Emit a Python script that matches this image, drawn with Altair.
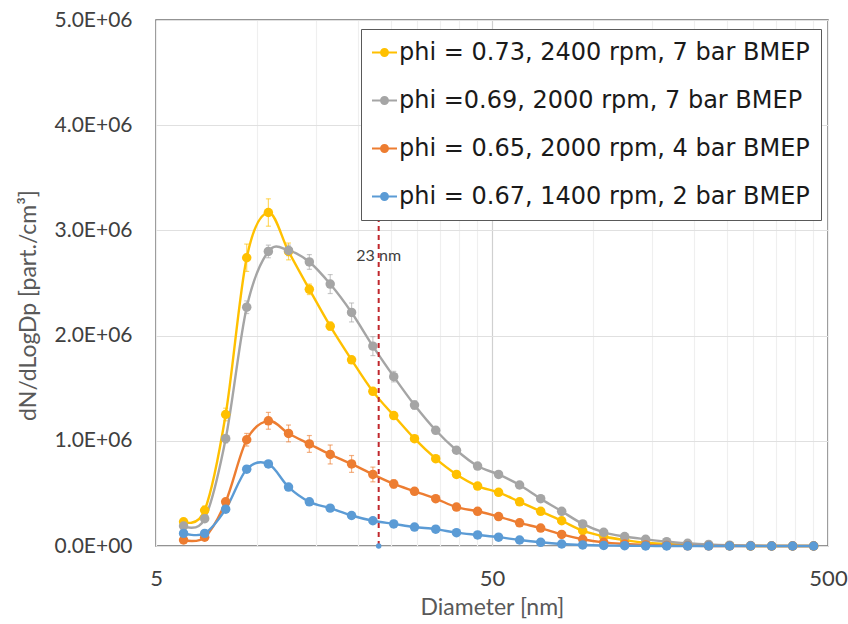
import altair as alt
import pandas as pd

# Particle diameter channels [nm]
diameter_nm = [6.04, 6.98, 8.06, 9.31, 10.8, 12.4, 14.3, 16.5, 19.1, 22.1, 25.5,
               29.4, 34.0, 39.2, 45.3, 52.3, 60.4, 69.8, 80.6, 93.1, 107.5, 124.1,
               143.3, 165.5, 191.1, 220.7, 254.8, 294.3, 339.8, 392.4, 453.2]

series_names = ["phi = 0.73, 2400 rpm, 7 bar BMEP",
                "phi =0.69, 2000 rpm, 7 bar BMEP",
                "phi = 0.65, 2000 rpm, 4 bar BMEP",
                "phi = 0.67, 1400 rpm, 2 bar BMEP"]
series_colors = ["#FFC000", "#A5A5A5", "#ED7D31", "#5B9BD5"]

# dN/dLogDp values in units of 1E+06 part./cm3
y_073 = [0.23, 0.34, 1.25, 2.74, 3.17, 2.80, 2.44, 2.09, 1.77, 1.47, 1.24,
         1.02, 0.83, 0.68, 0.57, 0.51, 0.42, 0.33, 0.24, 0.145, 0.09, 0.057,
         0.031, 0.02, 0.012, 0.006, 0.003, 0.0, 0.0, 0.0, 0.0]
y_069 = [0.19, 0.26, 1.02, 2.27, 2.80, 2.81, 2.70, 2.49, 2.22, 1.90, 1.61,
         1.34, 1.10, 0.91, 0.76, 0.68, 0.58, 0.45, 0.33, 0.21, 0.13, 0.09,
         0.064, 0.041, 0.026, 0.015, 0.008, 0.004, 0.0, 0.0, 0.0]
y_065 = [0.057, 0.083, 0.42, 1.01, 1.19, 1.07, 0.97, 0.87, 0.78, 0.68, 0.59,
         0.52, 0.45, 0.37, 0.33, 0.28, 0.22, 0.17, 0.11, 0.064, 0.035, 0.02,
         0.01, 0.005, 0.002, 0.0, 0.0, 0.0, 0.0, 0.0, 0.0]
y_067 = [0.12, 0.12, 0.35, 0.73, 0.78, 0.56, 0.42, 0.36, 0.29, 0.24, 0.21,
         0.18, 0.16, 0.127, 0.105, 0.084, 0.057, 0.035, 0.019, 0.01, 0.005, 0.003,
         0.001, 0.0, 0.0, 0.0, 0.0, 0.0, 0.0, 0.0, 0.0]

# error bar half-widths (1E+06 part./cm3)
e_073 = [0.02, 0.04, 0.06, 0.13, 0.13, 0.08, 0.05, 0.04, 0.03, 0.03, 0.02,
         0.02, 0.02, 0.0, 0.0, 0.0, 0.0, 0.0, 0.0, 0.0, 0.0, 0.0,
         0.0, 0.0, 0.0, 0.0, 0.0, 0.0, 0.0, 0.0, 0.0]
e_069 = [0.02, 0.03, 0.04, 0.06, 0.06, 0.05, 0.07, 0.09, 0.09, 0.09, 0.05,
         0.04, 0.03, 0.02, 0.0, 0.0, 0.0, 0.0, 0.0, 0.0, 0.0, 0.0,
         0.0, 0.0, 0.0, 0.0, 0.0, 0.0, 0.0, 0.0, 0.0]
e_065 = [0.01, 0.02, 0.03, 0.06, 0.08, 0.08, 0.08, 0.09, 0.08, 0.07, 0.04,
         0.03, 0.02, 0.02, 0.0, 0.0, 0.0, 0.0, 0.0, 0.0, 0.0, 0.0,
         0.0, 0.0, 0.0, 0.0, 0.0, 0.0, 0.0, 0.0, 0.0]
e_067 = [0.01, 0.01, 0.02, 0.03, 0.03, 0.02, 0.02, 0.02, 0.0, 0.0, 0.0,
         0.0, 0.0, 0.0, 0.0, 0.0, 0.0, 0.0, 0.0, 0.0, 0.0, 0.0,
         0.0, 0.0, 0.0, 0.0, 0.0, 0.0, 0.0, 0.0, 0.0]

cut_size_nm = [23]
cut_label = ["23 nm"]
cut_label_y = [2.76]
cut_line_top = [3.1]

y_ticks = [0, 1e6, 2e6, 3e6, 4e6, 5e6]
x_grid = [5, 10, 15, 20, 25, 30, 35, 40, 45, 50, 100, 150, 200, 250, 300,
          350, 400, 450, 500]

rows = []
for i, (name, col, vals, errs) in enumerate(zip(series_names, series_colors,
                                                [y_073, y_069, y_065, y_067],
                                                [e_073, e_069, e_065, e_067])):
    for d, v, e in zip(diameter_nm, vals, errs):
        rows.append({"d": d, "v": v * 1e6, "lo": (v - e) * 1e6, "hi": (v + e) * 1e6,
                     "e": e, "series": name, "col": col, "k": i})
df = pd.DataFrame(rows)
df_err = df[df["e"] > 0]

cut_df = pd.DataFrame({"d": cut_size_nm, "y0": [0.0],
                       "y1": [v * 1e6 for v in cut_line_top],
                       "ly": [v * 1e6 for v in cut_label_y], "t": cut_label})

FONT = "Lato"
LEGEND_FONT = "DejaVu Sans"
x_scale = alt.Scale(type="log", domain=[5, 500], nice=False)
y_scale = alt.Scale(domain=[0, 5e6], nice=False)

x_axis = alt.Axis(
    values=x_grid,
    labelExpr="(datum.value == 5 || datum.value == 50 || datum.value == 500) ? format(datum.value, 'd') : ''",
    title="Diameter [nm]", ticks=False, tickSize=0, domain=False,
    labelFlush=False, labelOverlap=False, labelPadding=22,
    labelFontSize=22, labelColor="#404040", labelFont=FONT,
    titleFontSize=23, titleColor="#595959", titleFont=FONT, titleFontWeight="normal",
    titlePadding=7,
    gridColor={"condition": {"test": "datum.value == 50", "value": "#D0D0D0"},
               "value": "#EFEFEF"},
    gridWidth=1.2,
)
y_axis = alt.Axis(
    values=y_ticks,
    labelExpr="datum.value == 0 ? '0.0E+00' : format(datum.value / 1e6, '.1f') + 'E+06'",
    title="dN/dLogDp [part./cm³]", ticks=False, tickSize=0, domain=False,
    labelFlush=False, labelOverlap=False, labelPadding=24,
    labelFontSize=21, labelColor="#404040", labelFont=FONT,
    titleFontSize=23, titleColor="#595959", titleFont=FONT, titleFontWeight="normal",
    titleX=-128, titleY=285, titleBaseline="middle", titleAlign="center", titleAngle=270,
    gridColor="#E0E0E0", gridWidth=1.2,
)

legend_symbol = ("M-1,-0.08L1,-0.08L1,0.08L-1,0.08Z "
                 "M0.36,0A0.36,0.36,0,1,1,-0.36,0A0.36,0.36,0,1,1,0.36,0Z")

base = alt.Chart(df)

err = alt.Chart(df_err).mark_errorbar(ticks=True, thickness=1.2, opacity=0.6).encode(
    x=alt.X("d:Q", scale=x_scale, axis=x_axis),
    y=alt.Y("lo:Q", scale=y_scale, axis=y_axis),
    y2="hi:Q",
    color=alt.Color("col:N", scale=None),
    detail="k:O",
)

lines = base.mark_line(interpolate="cardinal", tension=0, strokeWidth=2.4).encode(
    x=alt.X("d:Q", scale=x_scale, axis=x_axis),
    y=alt.Y("v:Q", scale=y_scale, axis=y_axis),
    stroke=alt.Stroke("col:N", scale=None),
    detail="k:O",
)

points = base.mark_point(filled=True, size=90, opacity=1).encode(
    x=alt.X("d:Q", scale=x_scale, axis=x_axis),
    y=alt.Y("v:Q", scale=y_scale, axis=y_axis),
    fill=alt.Fill("series:N", scale=alt.Scale(domain=series_names, range=series_colors),
                  legend=alt.Legend(
        title=None, orient="none", legendX=205, legendY=9,
        fillColor="white", strokeColor="#595959", padding=11, rowPadding=23,
        labelFontSize=24, labelFont=LEGEND_FONT, labelColor="#1A1A1A", labelLimit=600,
        labelOffset=2, symbolType=legend_symbol, symbolSize=625,
        symbolStrokeWidth=0, symbolOpacity=1, zindex=1,
    )),
)

cut_rule = alt.Chart(cut_df).mark_rule(color="#C0272D", strokeWidth=2,
                                       strokeDash=[5, 4]).encode(
    x=alt.X("d:Q", scale=x_scale),
    y=alt.Y("y0:Q", scale=y_scale),
    y2="y1:Q",
)
cut_dot = alt.Chart(cut_df).mark_point(filled=True, size=30, color="#5B9BD5",
                                       opacity=1).encode(
    x=alt.X("d:Q", scale=x_scale),
    y=alt.Y("y0:Q", scale=y_scale),
)
cut_text = alt.Chart(cut_df).mark_text(fontSize=16, font=FONT, color="#404040",
                                       align="center", baseline="middle").encode(
    x=alt.X("d:Q", scale=x_scale),
    y=alt.Y("ly:Q", scale=y_scale),
    text="t:N",
)

chart = alt.layer(err, lines, points, cut_rule, cut_dot, cut_text).properties(
    width=672, height=526,
    padding={"left": 156, "top": 20, "right": 20, "bottom": 78},
    autosize=alt.AutoSizeParams(type="none"),
    background="white",
).configure_view(stroke="#707070", strokeWidth=1.5)

chart.save("out.html", embed_options={"renderer": "svg", "actions": False})
